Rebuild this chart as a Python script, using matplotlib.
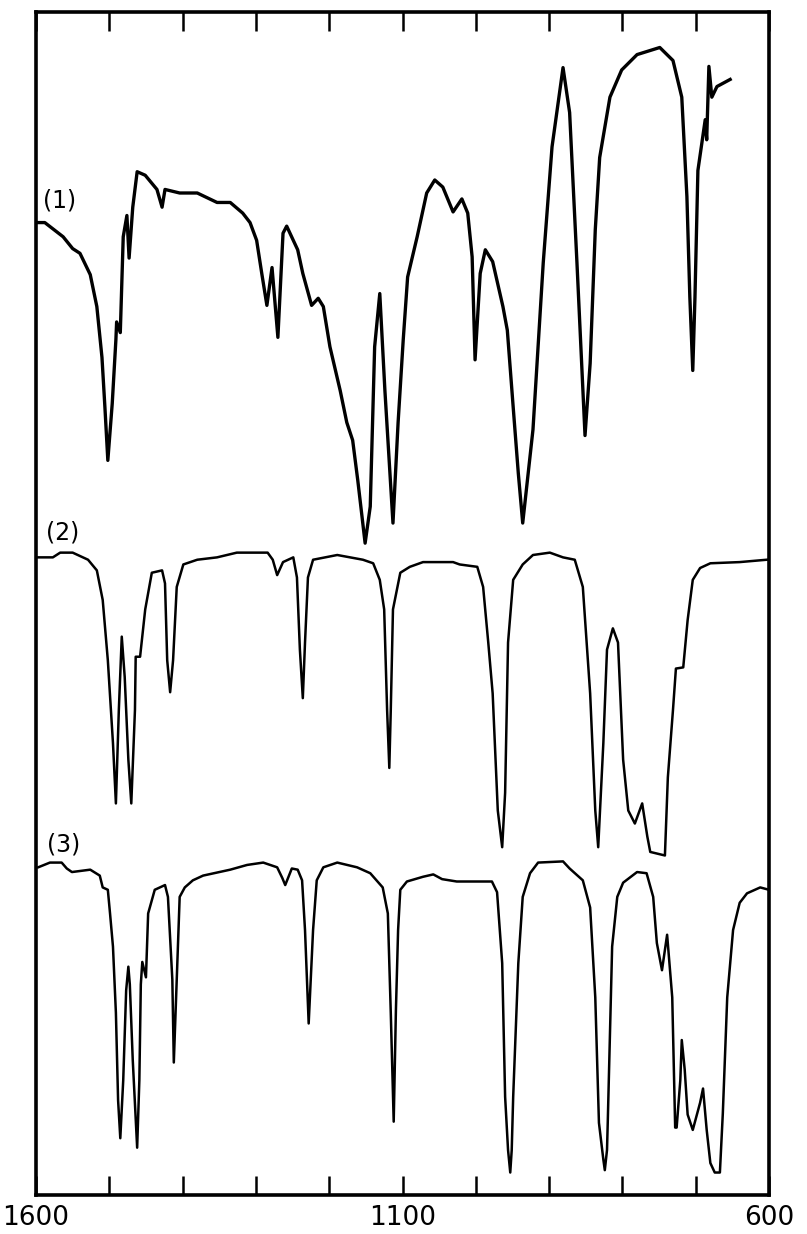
import matplotlib
matplotlib.use("Agg")
import matplotlib.pyplot as plt

# IR spectra, wavenumber (cm-1) vs. transmittance (arbitrary %, curves offset)
wn1 = [1600, 1588, 1563, 1550, 1540, 1526, 1517, 1510, 1506, 1502, 1496, 1491, 1490, 1485,
       1481, 1476, 1473, 1468, 1462, 1451, 1435, 1428, 1424, 1404, 1380, 1353, 1335, 1318,
       1308, 1299, 1292, 1285, 1278, 1270, 1263, 1258, 1243, 1236, 1224, 1215, 1208, 1199,
       1185, 1176, 1168, 1161, 1151, 1144, 1138, 1131, 1124, 1113, 1106, 1099, 1093, 1080,
       1067, 1056, 1045, 1031, 1019, 1011, 1005, 1001, 994, 987, 977, 963, 957, 949, 942,
       936, 922, 908, 896, 881, 872, 862, 851, 844, 837, 831, 817, 801, 780, 749, 731, 719,
       712, 708, 704, 701, 697, 687, 685, 682, 678, 671, 653]
t1 = [82.2, 82.2, 81.0, 80.0, 79.6, 77.8, 75.1, 70.8, 66.6, 62.1, 66.9, 72.3, 73.8, 72.9,
      81.0, 82.8, 79.2, 83.5, 86.5, 86.2, 85.0, 83.5, 85.0, 84.7, 84.7, 83.9, 83.9, 83.0,
      82.2, 80.7, 77.9, 75.2, 78.4, 72.5, 81.3, 81.9, 79.9, 77.9, 75.2, 75.8, 75.1, 71.7,
      68.0, 65.3, 63.8, 60.4, 55.1, 58.2, 71.7, 76.2, 68.0, 56.8, 65.3, 72.3, 77.6, 81.0,
      84.7, 85.8, 85.2, 83.1, 84.2, 83.0, 79.3, 70.6, 77.9, 79.9, 78.9, 75.1, 73.1, 66.6, 61.0,
      56.8, 64.7, 78.8, 88.6, 95.3, 91.5, 78.8, 64.2, 70.3, 81.6, 87.7, 92.8, 95.1, 96.4, 97.0,
      95.9, 92.8, 84.4, 75.9, 69.7, 75.9, 86.6, 90.9, 89.2, 95.4, 92.8, 93.7, 94.3]

wn2 = [1599, 1577, 1567, 1550, 1529, 1517, 1509, 1502, 1495, 1491, 1487, 1483, 1479, 1474,
       1470, 1465, 1464, 1458, 1451, 1442, 1428, 1424, 1421, 1417, 1413, 1408, 1399, 1380,
       1353, 1326, 1284, 1277, 1271, 1263, 1249, 1244, 1240, 1236, 1233, 1229, 1222, 1189,
       1154, 1140, 1131, 1125, 1121, 1118, 1116, 1113, 1103, 1090, 1072, 1031, 1022, 998,
       990, 983, 977, 970, 964, 960, 956, 949, 936, 922, 899, 881, 865, 854, 844, 837, 833,
       826, 821, 813, 806, 799, 792, 783, 773, 766, 762, 742, 738, 731, 727, 717, 711, 704,
       694, 680, 640, 603]
t2 = [53.9, 53.9, 54.3, 54.3, 53.7, 52.8, 50.3, 45.2, 38.2, 33.1, 41.0, 47.2, 43.8, 36.8,
      33.1, 41.0, 45.5, 45.5, 49.5, 52.6, 52.8, 51.7, 45.2, 42.5, 45.2, 51.4, 53.3, 53.7,
      53.9, 54.3, 54.3, 53.7, 52.4, 53.5, 53.9, 52.2, 46.1, 42.0, 46.7, 52.2, 53.7, 54.1,
      53.7, 53.4, 52.0, 49.5, 41.0, 36.1, 41.0, 49.5, 52.6, 53.1, 53.5, 53.5, 53.3, 53.1,
      51.4, 46.7, 42.4, 32.5, 29.4, 34.0, 46.7, 52.0, 53.3, 54.1, 54.3, 53.9, 53.7, 51.4,
      42.4, 32.5, 29.4, 38.2, 46.1, 47.9, 46.7, 36.8, 32.5, 31.4, 33.1, 30.3, 29.0, 28.7,
      35.3, 41.0, 44.5, 44.6, 48.6, 52.0, 53.0, 53.4, 53.5, 53.7]

wn3 = [1597, 1581, 1565, 1558, 1551, 1526, 1513, 1509, 1502, 1499, 1495, 1491, 1488, 1485,
       1481, 1477, 1474, 1472, 1468, 1462, 1459, 1457, 1455, 1450, 1447, 1438, 1424, 1420,
       1414, 1412, 1408, 1404, 1397, 1386, 1372, 1335, 1312, 1290, 1271, 1264, 1260, 1251,
       1243, 1237, 1233, 1228, 1222, 1217, 1208, 1189, 1162, 1144, 1127, 1120, 1116, 1112,
       1109, 1106, 1103, 1094, 1072, 1058, 1046, 1026, 990, 978, 971, 964, 960, 956, 953,
       951, 949, 942, 936, 926, 915, 881, 872, 854, 844, 837, 832, 826, 824, 821, 820, 814,
       807, 799, 780, 767, 758, 753, 746, 739, 732, 728, 726, 721, 719, 715, 711, 704, 694,
       690, 685, 680, 674, 667, 663, 657, 649, 640, 630, 612, 600]
t3 = [27.7, 28.1, 28.1, 27.6, 27.3, 27.5, 27.0, 26.0, 25.8, 23.8, 21.0, 15.4, 8.0, 4.8,
      9.7, 17.3, 19.3, 17.8, 11.4, 4.0, 9.7, 17.8, 19.7, 18.4, 23.8, 25.8, 26.2, 25.2,
      18.2, 11.2, 18.2, 25.2, 26.0, 26.6, 27.0, 27.5, 27.9, 28.1, 27.7, 26.8, 26.2, 27.6,
      27.5, 26.6, 22.4, 14.5, 22.4, 26.6, 27.7, 28.1, 27.7, 27.2, 26.0, 23.8, 15.4, 6.2,
      15.6, 22.4, 25.8, 26.5, 26.9, 27.1, 26.7, 26.5, 26.5, 26.5, 25.6, 19.6, 8.3, 3.8, 1.9,
      3.8, 8.3, 19.6, 25.2, 27.2, 28.1, 28.2, 27.6, 26.6, 24.3, 16.7, 6.1, 3.0, 2.1, 3.8, 6.1, 21.0,
      25.2, 26.4, 27.3, 27.2, 25.2, 21.3, 19.0, 22.0, 16.7, 5.7, 5.7, 9.7, 13.1, 10.6, 6.8, 5.5, 7.8,
      9.0, 5.5, 2.7, 1.9, 1.9, 6.9, 16.7, 22.4, 24.7, 25.5, 26.0, 25.8]

labels = ["(1)", "(2)", "(3)"]
label_wn = [1591, 1586, 1585]
label_t = [84.1, 56.0, 29.6]

tick_wn = list(range(600, 1601, 100))
tick_txt = ["600" if w == 600 else "1100" if w == 1100 else "1600" if w == 1600 else "" for w in tick_wn]

fig = plt.figure(figsize=(8.07, 12.34), dpi=100)
ax = fig.add_axes([36 / 807, 39 / 1234, 733 / 807, 1183 / 1234])

ax.plot(wn1, t1, color="black", lw=2.4, solid_joinstyle="round")
ax.plot(wn2, t2, color="black", lw=1.8, solid_joinstyle="round")
ax.plot(wn3, t3, color="black", lw=1.8, solid_joinstyle="round")

for s, w, t in zip(labels, label_wn, label_t):
    ax.text(w, t, s, fontsize=17, ha="left", va="center")

ax.set_xlim(1600, 600)
ax.set_ylim(0, 100)
ax.set_xticks(tick_wn)
ax.set_xticklabels(tick_txt, fontsize=19)
ax.set_yticks([])
ax.tick_params(axis="x", direction="in", length=14, width=1.8, top=True, pad=7)
for sp in ax.spines.values():
    sp.set_linewidth(2.6)

fig.savefig("out.png", dpi=100)
